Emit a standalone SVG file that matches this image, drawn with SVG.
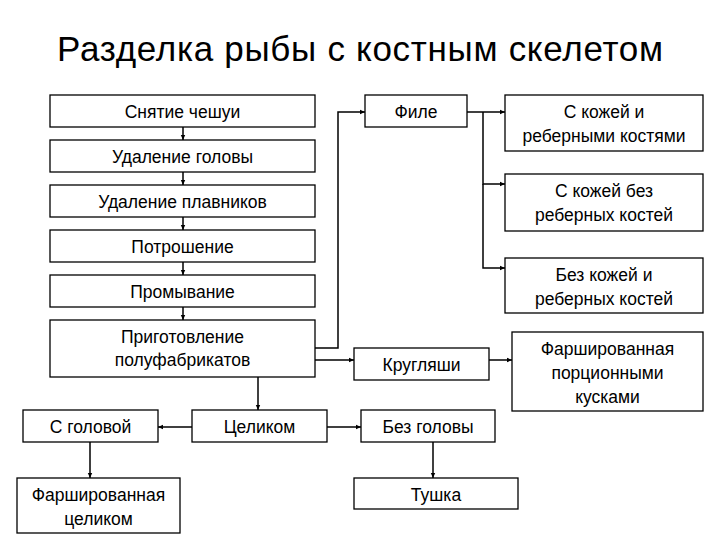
<svg xmlns="http://www.w3.org/2000/svg" width="720" height="540" viewBox="0 0 720 540">
<defs>
<marker id="ah" markerWidth="6" markerHeight="6" refX="5" refY="3" orient="auto" markerUnits="userSpaceOnUse">
<path d="M0,0.8 L5,3 L0,5.2 Z" fill="#000"/>
</marker>
<style>
.box{fill:#fff;stroke:#000;stroke-width:1.3}
.t{font-family:"Liberation Sans",Arial,sans-serif;font-size:17.5px;fill:#000;text-anchor:middle}
.c{fill:none;stroke:#000;stroke-width:1.5;marker-end:url(#ah)}
.title{font-family:"Liberation Sans",Arial,sans-serif;font-size:35px;fill:#000;text-anchor:middle}
</style>
</defs>
<rect width="720" height="540" fill="#fff"/>
<text class="title" x="360" y="61" textLength="606" lengthAdjust="spacing">Разделка рыбы с костным скелетом</text>

<g id="connectors">
<path class="c" d="M183,127 V140"/>
<path class="c" d="M183,172 V185"/>
<path class="c" d="M183,217 V230"/>
<path class="c" d="M183,262 V275"/>
<path class="c" d="M183,307 V320"/>
<path class="c" d="M315,348 H338 V112 H365"/>
<path class="c" d="M467,112 H505"/>
<path class="c" d="M483,112 V184 H505"/>
<path class="c" d="M483,184 V268 H505"/>
<path class="c" d="M315,360 H354"/>
<path class="c" d="M489,360 H512"/>
<path class="c" d="M258,377 V410"/>
<path class="c" d="M192,427 H158"/>
<path class="c" d="M327,427 H361"/>
<path class="c" d="M90,442 V478"/>
<path class="c" d="M433,442 V478"/>
</g>

<g id="n1"><rect class="box" x="50" y="95" width="265" height="32"/><text class="t" x="182.5" y="118">Снятие чешуи</text></g>
<g id="n2"><rect class="box" x="50" y="140" width="265" height="32"/><text class="t" x="182.5" y="163">Удаление головы</text></g>
<g id="n3"><rect class="box" x="50" y="185" width="265" height="32"/><text class="t" x="182.5" y="208">Удаление плавников</text></g>
<g id="n4"><rect class="box" x="50" y="230" width="265" height="32"/><text class="t" x="182.5" y="253">Потрошение</text></g>
<g id="n5"><rect class="box" x="50" y="275" width="265" height="32"/><text class="t" x="182.5" y="298">Промывание</text></g>
<g id="n6"><rect class="box" x="50" y="320" width="265" height="57"/><text class="t" x="182.5" y="343">Приготовление</text><text class="t" x="182.5" y="366">полуфабрикатов</text></g>
<g id="n7"><rect class="box" x="365" y="95" width="102" height="32"/><text class="t" x="416" y="118">Филе</text></g>
<g id="n8"><rect class="box" x="505" y="95" width="198" height="56"/><text class="t" x="604" y="118">С кожей и</text><text class="t" x="604" y="142">реберными костями</text></g>
<g id="n9"><rect class="box" x="505" y="174" width="198" height="57"/><text class="t" x="604" y="197">С кожей без</text><text class="t" x="604" y="221">реберных костей</text></g>
<g id="n10"><rect class="box" x="505" y="258" width="198" height="55"/><text class="t" x="604" y="281">Без кожей и</text><text class="t" x="604" y="305">реберных костей</text></g>
<g id="n11"><rect class="box" x="354" y="348" width="135" height="32"/><text class="t" x="421.5" y="371">Кругляши</text></g>
<g id="n12"><rect class="box" x="512" y="332" width="191" height="79"/><text class="t" x="607.5" y="355">Фаршированная</text><text class="t" x="607.5" y="379">порционными</text><text class="t" x="607.5" y="403">кусками</text></g>
<g id="n13"><rect class="box" x="23" y="410" width="135" height="32"/><text class="t" x="90.5" y="433">С головой</text></g>
<g id="n14"><rect class="box" x="192" y="410" width="135" height="32"/><text class="t" x="259.5" y="433">Целиком</text></g>
<g id="n15"><rect class="box" x="361" y="410" width="134" height="32"/><text class="t" x="428" y="433">Без головы</text></g>
<g id="n16"><rect class="box" x="17" y="478" width="163" height="55"/><text class="t" x="98.5" y="501">Фаршированная</text><text class="t" x="98.5" y="525">целиком</text></g>
<g id="n17"><rect class="box" x="354" y="478" width="164" height="31"/><text class="t" x="436" y="501">Тушка</text></g>
</svg>
